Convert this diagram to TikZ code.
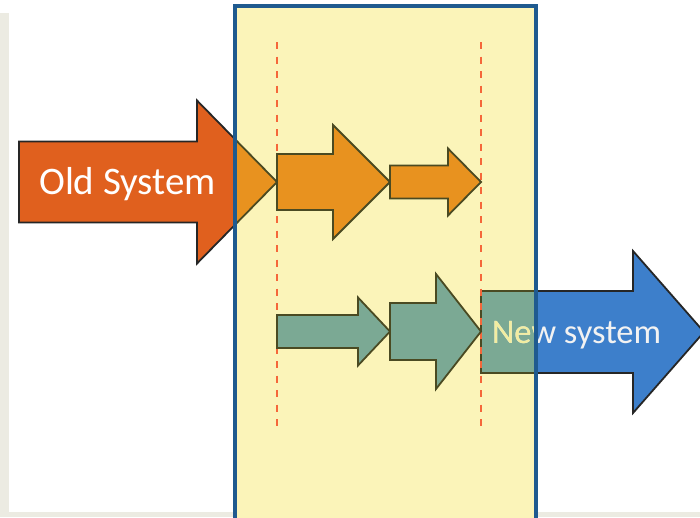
\documentclass[tikz,border=0pt]{standalone}
\usepackage{fontspec}
\setmainfont{Carlito}
\definecolor{pagegray}{HTML}{ECEBE2}
\definecolor{oldred}{HTML}{E0601E}
\definecolor{stepor}{HTML}{E8921F}
\definecolor{stepgreen}{HTML}{7BA994}
\definecolor{newblue}{HTML}{3D7FCB}
\definecolor{zonefill}{HTML}{FBF4B9}
\definecolor{zoneedge}{HTML}{1F5A8F}
\definecolor{olive}{HTML}{4A4A22}
\definecolor{cutline}{HTML}{F5673A}
\definecolor{paletext}{HTML}{F2EDA0}
% block arrow: tail x, mid y, body half height, head start x, head half height, tip x
\newcommand\blockarrow[6]{(#1,#2-#3) -- (#4,#2-#3) -- (#4,#2-#5) -- (#6,#2) -- (#4,#2+#5) -- (#4,#2+#3) -- (#1,#2+#3) -- cycle}
\begin{document}
\begin{tikzpicture}[x=1pt,y=-1pt,
  bigarrow/.style={draw=black!85, line width=1.8pt, line join=miter},
  stepshape/.style={draw=olive, line width=1.8pt, line join=miter},
  cut/.style={draw=cutline, line width=2.4pt, dash pattern=on 7pt off 7.5pt},
  label/.style={inner sep=0pt, anchor=base west}]
\useasboundingbox (0,0) rectangle (700,517);
\clip (0,0) rectangle (700,517);
% page background
\fill[white] (0,0) rectangle (700,517);
\fill[pagegray] (0,13) rectangle (9,517);
\fill[pagegray] (0,512) rectangle (700,517);
% the two systems
\fill[oldred, bigarrow] \blockarrow{19}{182}{40.5}{197}{81.5}{277};
\fill[newblue, bigarrow] \blockarrow{481}{332}{41}{633}{81}{704};
% transition zone
\fill[zonefill] (235,6) rectangle (536,530);
\begin{scope}
  \clip (235,6) rectangle (536,530);
  \fill[stepor, stepshape] \blockarrow{19}{182}{40.5}{197}{81.5}{277};
  \fill[stepgreen, stepshape] \blockarrow{481}{332}{41}{633}{81}{704};
\end{scope}
% labels
\node[label, text=white, font=\fontsize{39}{47}\selectfont] (oldlabel) at (39,194) {Old System};
\node[label, text=white!95!black, font=\fontsize{34.5}{41}\selectfont] (newlabel) at (492,343) {New system};
\begin{scope}
  \clip (235,6) rectangle (536,530);
  \node[label, text=paletext, font=\fontsize{34.5}{41}\selectfont] (newlabelzone) at (492,343) {New system};
\end{scope}
\draw[zoneedge, line width=3.5pt] (235,6) rectangle (536,530);
% phase boundaries
\coordinate (c1top) at (277,42);
\coordinate (c1bot) at (277,433);
\coordinate (c2top) at (481,42);
\coordinate (c2bot) at (481,433);
\draw[cut] (c1top) -- (c1bot);
\draw[cut] (c2top) -- (c2bot);
% migration steps
\fill[stepor, stepshape] \blockarrow{277}{182}{28}{333}{57}{390};
\fill[stepor, stepshape] \blockarrow{390}{182}{16.5}{448}{33.5}{481};
\fill[stepgreen, stepshape] \blockarrow{277}{331.5}{16.5}{358}{34}{390};
\fill[stepgreen, stepshape] \blockarrow{390}{331.5}{28.5}{436}{57.5}{481};
\end{tikzpicture}
\end{document}
